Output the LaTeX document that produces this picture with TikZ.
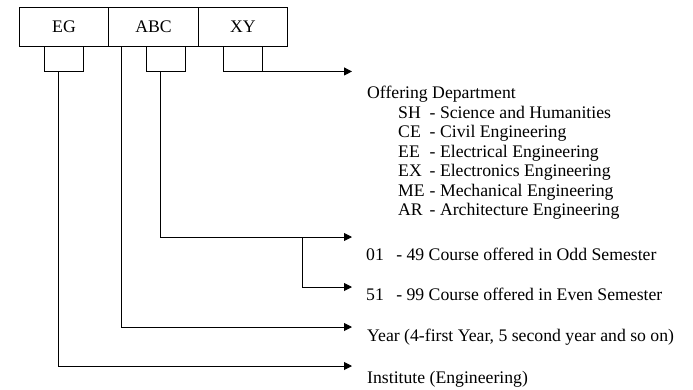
\documentclass[tikz,border=0pt]{standalone}
\usepackage{fontspec}
\setmainfont{Liberation Serif}
\usetikzlibrary{arrows.meta}
\begin{document}
\begin{tikzpicture}[x=1pt,y=-1pt,
  txt/.style={font=\fontsize{17.7}{20}\selectfont, inner sep=0pt, anchor=base west},
  cell/.style={draw, line width=0.9pt, minimum width=89.5pt, minimum height=39pt, inner sep=0pt, font=\fontsize{17.7}{20}\selectfont},
  sbox/.style={draw, line width=0.9pt, minimum width=39pt, minimum height=25pt, inner sep=0pt},
  arr/.style={line width=0.9pt, -{Triangle[length=8pt,width=8pt]}}]
\useasboundingbox (0,0) rectangle (693,389);
% top cells
\node[cell] (eg)  at (64,26.5)  {EG};
\node[cell] (abc) at (153.5,26.5) {ABC};
\node[cell] (xy)  at (243,26.5) {XY};
% small boxes
\node[sbox] (seg)  at (63.5,58.5) {};
\node[sbox] (sabc) at (166,58.5) {};
\node[sbox] (sxy)  at (242.5,58.5) {};
% coordinates
\coordinate (tipxy) at (352,71);
\coordinate (c1) at (160,237);
\coordinate (tipodd) at (352,237);
\coordinate (br) at (302,237);
\coordinate (brd) at (302,287);
\coordinate (tipeven) at (352,287);
\coordinate (ytop) at (121,46);
\coordinate (ybot) at (121,327);
\coordinate (tipyear) at (352,327);
\coordinate (ibot) at (58,366);
\coordinate (tipinst) at (352,366);
% connectors
\draw[arr] (sxy.south east) -- (sxy.south east -| tipxy);
\draw[arr] (sabc.south -| c1) -- (c1) -- (tipodd);
\draw[arr] (br) -- (brd) -- (tipeven);
\draw[arr] (ytop) -- (ybot) -- (tipyear);
\draw[arr] (seg.south -| ibot) -- (ibot) -- (tipinst);
% texts
\node[txt] (od) at (367,98.5) {Offering Department};
\node[txt] (sh) at (398,118) {\makebox[1.78em][l]{SH}- Science and Humanities};
\node[txt] (ce) at (398,137.5) {\makebox[1.78em][l]{CE}- Civil Engineering};
\node[txt] (ee) at (398,157) {\makebox[1.78em][l]{EE}- Electrical Engineering};
\node[txt] (ex) at (398,176.5) {\makebox[1.78em][l]{EX}- Electronics Engineering};
\node[txt] (me) at (398,196) {\makebox[1.78em][l]{ME}- Mechanical Engineering};
\node[txt] (ar) at (398,215.5) {\makebox[1.78em][l]{AR}- Architecture Engineering};
\node[txt] (odd) at (366,260) {\makebox[1.7em][l]{01}- 49 Course offered in Odd Semester};
\node[txt] (even) at (366,300) {\makebox[1.7em][l]{51}- 99 Course offered in Even Semester};
\node[txt] (year) at (367,341) {Year (4-first Year, 5 second year and so on)};
\node[txt] (inst) at (367,383) {Institute (Engineering)};
\end{tikzpicture}
\end{document}
